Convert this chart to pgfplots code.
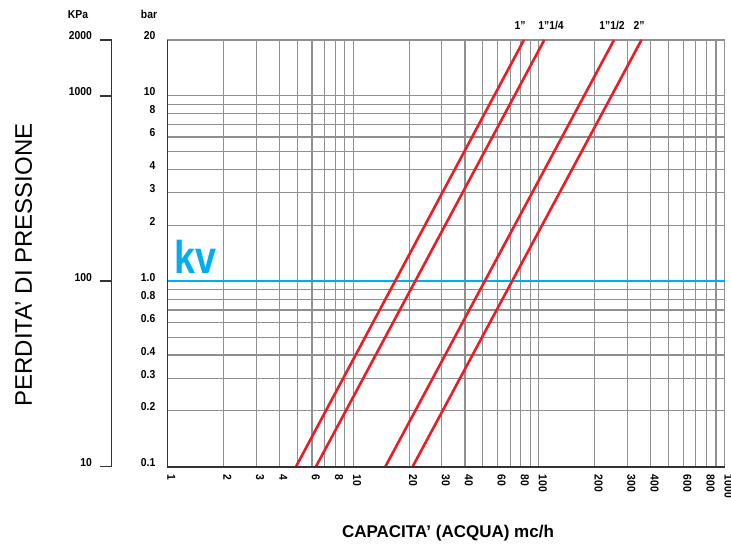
\documentclass[border=0pt]{standalone}
\usepackage{pgfplots}
\pgfplotsset{compat=1.18}
\usepackage{fontspec}
\setmainfont{Liberation Sans}
\newfontfamily\narrow{Liberation Sans}[FakeStretch=0.9]
\newfontfamily\kvfont{Liberation Sans}[FakeStretch=0.82]
\definecolor{myred}{HTML}{ED1C24}
\definecolor{myblue}{HTML}{00AEEF}
\definecolor{gridc}{HTML}{8F8F8F}
\definecolor{axc}{HTML}{333333}
\newcommand{\tlfont}{\narrow\bfseries\fontsize{11.5}{12}\selectfont}
\begin{document}
\begin{tikzpicture}
\useasboundingbox (-167.5pt,-78.3pt) rectangle (563.5pt,466.7pt);
% KPa axis
\begin{axis}[
  at={(-55.8pt,0pt)}, anchor=south west,
  scale only axis, width=10pt, height=426.7pt,
  ymode=log, ymin=10, ymax=2000, xmin=0, xmax=1,
  axis y line*=left, hide x axis,
  y axis line style={-, axc, line width=1.6pt},
  ytick={10,100,1000,2000}, yticklabels={10,100,1000,2000},
  minor ytick={},
  major tick length=11.7pt, tick align=outside,
  tick style={axc, line width=1.6pt},
  yticklabel style={anchor=base east, font=\tlfont, inner sep=0pt},
  yticklabel shift=8pt,
]
\addplot[draw=none] coordinates {(0.5,100)};
\end{axis}
% main axis
\begin{axis}[
  at={(0pt,0pt)}, anchor=south west,
  scale only axis, width=557pt, height=426.7pt,
  xmode=log, ymode=log,
  xmin=1, xmax=1000, ymin=0.1, ymax=20,
  axis x line*=bottom, axis y line*=left,
  x axis line style={-, axc, line width=1.6pt},
  y axis line style={-, axc, line width=1.6pt},
  xtick={1,2,3,4,6,8,10,20,30,40,60,80,100,200,300,400,600,800,1000},
  xticklabels={1,2,3,4,6,8,10,20,30,40,60,80,100,200,300,400,600,800,1000},
  minor xtick={5,7,9,50,70,90,500,700,900},
  ytick={0.1,0.2,0.3,0.4,0.6,0.8,1,2,3,4,6,8,10,20},
  yticklabels={0.1,0.2,0.3,0.4,0.6,0.8,1.0,2,3,4,6,8,10,20},
  minor ytick={0.5,0.7,0.9,5,7,9},
  grid=both,
  major grid style={gridc, line width=1.1pt},
  minor grid style={gridc, line width=1.1pt},
  major tick length=0pt, minor tick length=0pt,
  xticklabel style={rotate=-90, anchor=base west, font=\tlfont, inner sep=0pt},
  xticklabel shift=8pt,
  yticklabel style={anchor=base east, font=\tlfont, inner sep=0pt},
  yticklabel shift=12pt,
  clip=false,
]
\addplot[myblue, line width=2.2pt] coordinates {(1,1) (1000,1)};
\addplot[myred, line width=2.6pt] coordinates {(4.92,0.1) (83.1,20)};
\addplot[myred, line width=2.6pt] coordinates {(6.3,0.1) (107,20)};
\addplot[myred, line width=2.6pt] coordinates {(14.9,0.1) (254,20)};
\addplot[myred, line width=2.6pt] coordinates {(20.9,0.1) (357,20)};
\draw[axc, line width=1.7pt] (axis cs:1,20) -- (axis cs:1,0.1) -- (axis cs:1000,0.1);
\node[anchor=base west, inner sep=0pt, font=\kvfont\bfseries\fontsize{46}{50}\selectfont, text=myblue, xshift=7pt, yshift=8pt] at (axis cs:1,1) {kv};
\end{axis}
% headers
\node[anchor=base, inner sep=0pt, font=\tlfont] at (-89.5pt,448.6pt) {KPa};
\node[anchor=base, inner sep=0pt, font=\tlfont] at (-18.5pt,448.5pt) {bar};
\node[anchor=base, inner sep=0pt, font=\tlfont] at (352.5pt,436.7pt) {1”};
\node[anchor=base, inner sep=0pt, font=\tlfont] at (383.5pt,436.7pt) {1”1/4};
\node[anchor=base, inner sep=0pt, font=\tlfont] at (444.5pt,436.7pt) {1”1/2};
\node[anchor=base, inner sep=0pt, font=\tlfont] at (471.5pt,436.7pt) {2”};
% titles
\node[rotate=90, inner sep=0pt, font=\fontsize{24}{28}\selectfont] at (-144pt,201.7pt) {PERDITA’ DI PRESSIONE};
\node[anchor=base, inner sep=0pt, font=\bfseries\fontsize{17}{20}\selectfont] at (280.5pt,-70.6pt) {CAPACITA’ (ACQUA) mc/h};
\end{tikzpicture}
\end{document}
